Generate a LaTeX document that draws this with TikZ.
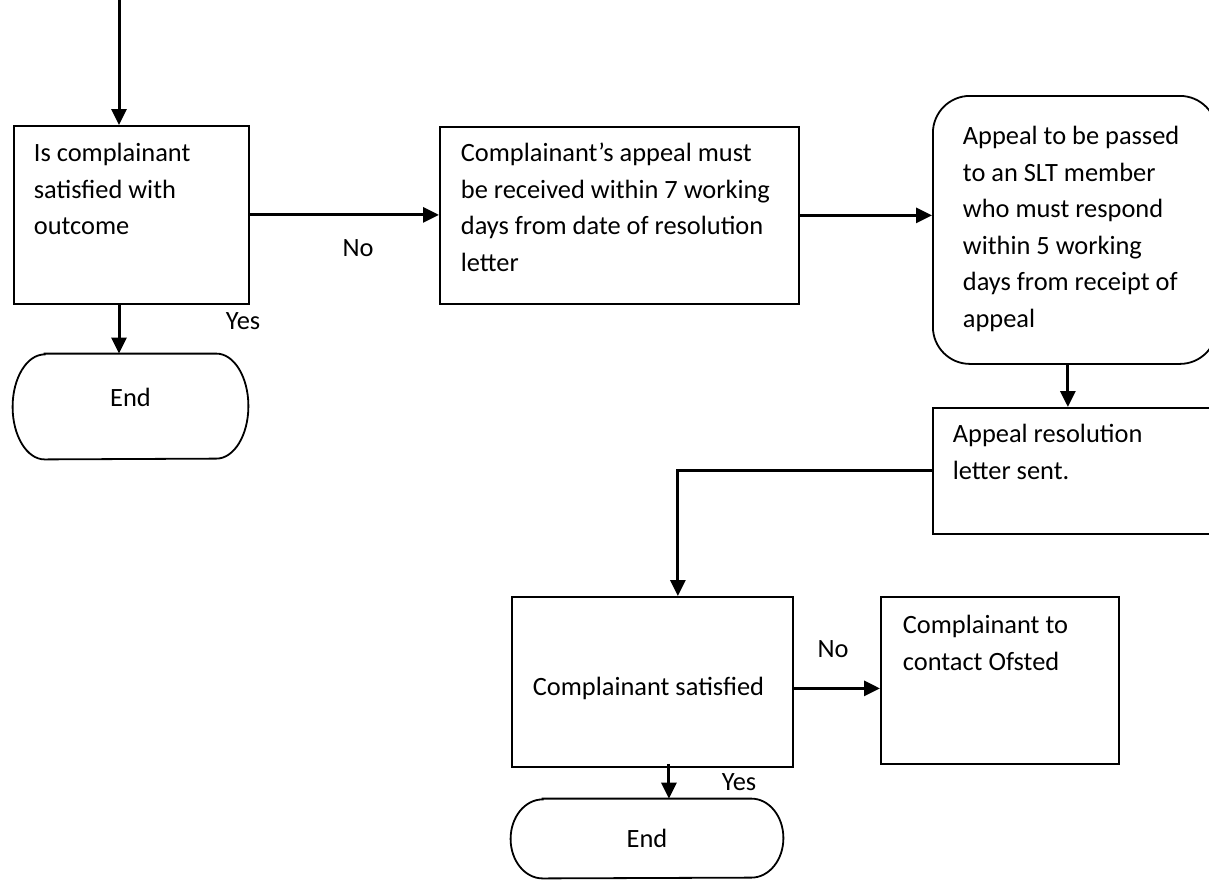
\documentclass[tikz,border=0pt]{standalone}
\usepackage{fontspec}
\setmainfont{Carlito}
\usetikzlibrary{arrows.meta}

\newcommand{\boxlines}[5]{%
  \parbox[c][#2][t]{#1}{\raggedright\leftskip=#3\relax\rule{0pt}{#4}#5}}
\newcommand{\termoutline}[3]{%
  \draw[shapeline] ([xshift=#2]#1.north west) -- ([xshift=-#2]#1.north east)
    arc[start angle=90,end angle=-90,x radius=#2,y radius=#3]
    -- ([xshift=#2]#1.south west)
    arc[start angle=270,end angle=90,x radius=#2,y radius=#3] -- cycle;}

\tikzset{
  shapeline/.style={line width=0.9pt},
  flowbox/.style={draw,shapeline,anchor=north west,inner sep=0pt,align=left},
  termnode/.style={inner sep=0pt},
  flowarrow/.style={line width=1.5pt,-{Triangle[length=8pt,width=7.5pt]}},
  lbl/.style={inner sep=0pt}
}

\begin{document}
\begin{tikzpicture}[x=0.5pt,y=-0.5pt,
    every node/.style={font=\fontsize{13.2pt}{18.25pt}\selectfont}]
  \useasboundingbox (0,0) rectangle (1209,880);

  \node[flowbox] (ask) at (13,125)
    {\boxlines{117.5pt}{89pt}{10pt}{18pt}{Is complainant\\ satisfied with\\ outcome}};
  \node[flowbox] (appeal) at (439,126)
    {\boxlines{179.5pt}{88.5pt}{10.5pt}{17.5pt}{Complainant’s appeal must\\ be received within 7 working\\ days from date of resolution\\ letter}};
  \node[flowbox,rounded corners=18.5pt] (slt) at (932,95)
    {\boxlines{142pt}{134pt}{15pt}{24.5pt}{Appeal to be passed\\ to an SLT member\\ who must respond\\ within 5 working\\ days from receipt of\\ appeal}};
  \node[flowbox] (sent) at (932,407)
    {\boxlines{142pt}{63pt}{10pt}{17.5pt}{Appeal resolution\\ letter sent.}};
  \node[flowbox] (again) at (511,596)
    {\boxlines{140.5pt}{85pt}{10.5pt}{49.5pt}{Complainant satisfied}};
  \node[flowbox] (ofsted) at (880,596)
    {\boxlines{119pt}{83.5pt}{11pt}{18.5pt}{Complainant to\\ contact Ofsted}};

  \node[termnode,minimum width=117.5pt,minimum height=52.5pt,
        text height=9pt,text depth=9pt] (endA) at (130.5,406.5) {End};
  \termoutline{endA}{16pt}{26.25pt}
  \node[termnode,minimum width=136pt,minimum height=39.5pt] (endB) at (647,838.5) {End};
  \termoutline{endB}{16pt}{19.75pt}

  \node[lbl] (noA) at (358,248) {No};
  \node[lbl] (yesA) at (243,321) {Yes};
  \node[lbl] (noB) at (833,649) {No};
  \node[lbl] (yesB) at (739,782) {Yes};

  \coordinate (entry) at (119,0);
  \draw[flowarrow] (entry) -- (entry |- ask.north);
  \draw[flowarrow] (entry |- ask.south) -- (entry |- endA.north);
  \draw[flowarrow] (ask.east) -- (ask.east -| appeal.west);
  \draw[flowarrow] (appeal.east) -- (appeal.east -| slt.west);
  \draw[flowarrow] ([xshift=-3.5pt]slt.south) -- ([xshift=-3.5pt]slt.south |- sent.north);
  \draw[flowarrow] (sent.west) -| ([xshift=12.75pt]again.north);
  \draw[flowarrow] ([yshift=-3.25pt]again.east) -- ([yshift=-3.25pt]again.east -| ofsted.west);
  \draw[flowarrow] ([xshift=8.25pt,yshift=2pt]again.south) -- ([xshift=8.25pt]again.south |- endB.north);
\end{tikzpicture}
\end{document}
